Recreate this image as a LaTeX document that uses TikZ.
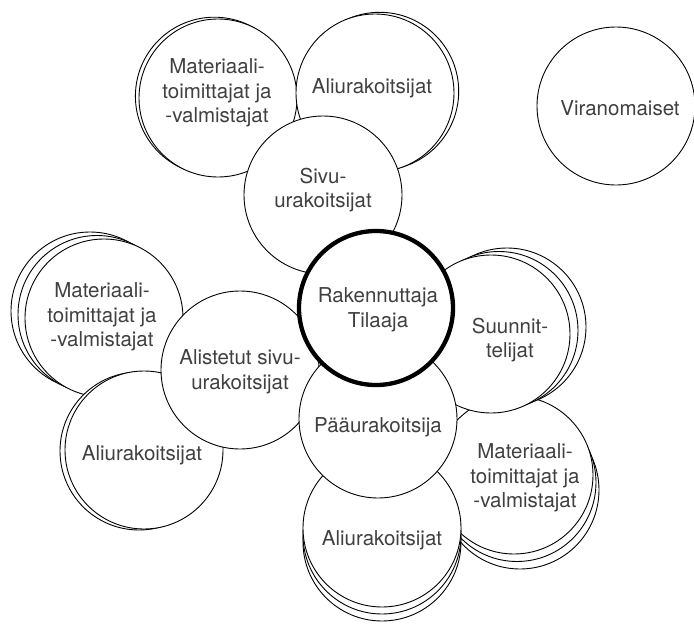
\documentclass[tikz,border=0pt]{standalone}
\usepackage{fontspec}
\setmainfont{TeX Gyre Heros}
\begin{document}
\begin{tikzpicture}[x=1pt,y=-1pt,
  bub/.style={circle, draw=black, line width=0.9pt, fill=white, minimum size=158pt, inner sep=0pt},
  mainbub/.style={circle, draw=black, line width=4.3pt, fill=white, minimum size=154pt, inner sep=0pt},
  lbl/.style={font=\fontsize{20.5}{24.5}\selectfont, text=black!75, align=center, inner sep=0pt}]
\useasboundingbox (0,0) rectangle (694,624);

% Materiaali (top left)
\node[bub] (mtlB) at (214.4,96.2) {};
\node[bub] (mtl) at (218,98) {};
\node[lbl] (mtlT) at (217,93) {Materiaali-\\toimittajat ja\\-valmistajat};

% Aliurakoitsijat (top)
\node[bub] (atB) at (379.7,91.3) {};
\node[bub] (at) at (375,93) {};
\node[lbl] (atT) at (372,88) {Aliurakoitsijat};

% Sivu-urakoitsijat
\node[bub] (sivu) at (323,195) {};
\node[lbl] (sivuT) at (323,190) {Sivu-\\urakoitsijat};

% Materiaali (left)
\node[bub] (mlC) at (90,311) {};
\node[bub] (mlB) at (97,314.5) {};
\node[bub] (ml) at (104,318) {};
\node[lbl] (mlT) at (102,317) {Materiaali-\\toimittajat ja\\-valmistajat};

% Aliurakoitsijat (left)
\node[bub] (alB) at (139,451) {};
\node[bub] (al) at (144,450) {};
\node[lbl] (alT) at (142,455) {Aliurakoitsijat};

% Alistetut sivu-urakoitsijat
\node[bub] (alis) at (240,370) {};
\node[lbl] (alisT) at (240,372) {Alistetut sivu-\\urakoitsijat};

% Materiaali (right)
\node[bub] (mrC) at (520,490) {};
\node[bub] (mrB) at (517,482.5) {};
\node[bub] (mr) at (514,475) {};
\node[lbl] (mrT) at (525,478) {Materiaali-\\toimittajat ja\\-valmistajat};

% Aliurakoitsijat (bottom)
\node[bub] (abC) at (382,542) {};
\node[bub] (abB) at (382,535) {};
\node[bub] (ab) at (382,528) {};
\node[lbl] (abT) at (382,540) {Aliurakoitsijat};

% Suunnittelijat
\node[bub] (suC) at (507,327) {};
\node[bub] (suB) at (499,330.5) {};
\node[bub] (su) at (491,334) {};
\node[lbl] (suT) at (510,340) {Suunnit-\\telijat};

% Paaurakoitsija
\node[bub] (paa) at (378,419) {};
\node[lbl] (paaT) at (378,427) {Pääurakoitsija};

% Rakennuttaja
\node[mainbub] (rak) at (376,308) {};
\node[lbl] (rakT) at (378,310) {Rakennuttaja\\Tilaaja};

% Viranomaiset
\node[bub] (vir) at (616,106) {};
\node[lbl] (virT) at (620,108) {Viranomaiset};
\end{tikzpicture}
\end{document}
